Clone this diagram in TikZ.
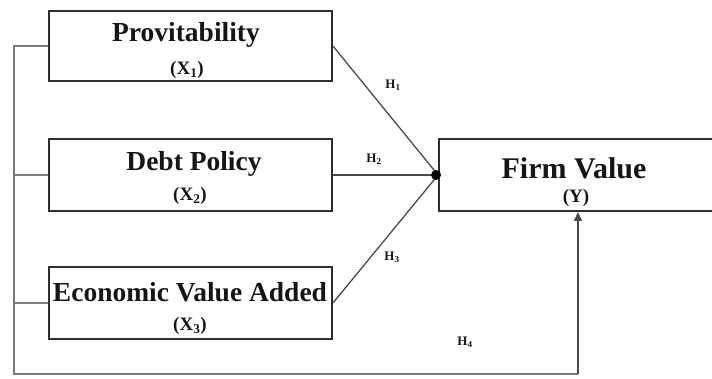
\documentclass[tikz,border=0pt]{standalone}
\usepackage{fontspec}
\setmainfont{Liberation Serif}
\usetikzlibrary{arrows.meta}
\definecolor{edge}{HTML}{2E2E2E}
\definecolor{wire}{HTML}{4A4A4A}
\definecolor{rail}{HTML}{7A7A7A}
\definecolor{ink}{HTML}{151515}
\tikzset{
  varbox/.style={draw=edge, line width=1.9pt, rectangle, inner sep=0pt, fill=white},
  title/.style={text=ink, font=\bfseries\fontsize{27.5}{30}\selectfont, inner sep=0pt},
  symb/.style={text=ink, font=\bfseries\fontsize{19}{21}\selectfont, inner sep=0pt},
  hyp/.style={text=ink, font=\bfseries\fontsize{13}{15}\selectfont, inner sep=0pt},
  path1/.style={draw=wire, line width=1.3pt},
  railline/.style={draw=rail, line width=1.4pt},
}
\begin{document}
\begin{tikzpicture}[x=1pt,y=-1pt]
\useasboundingbox[fill=white] (0,0) rectangle (712,378);

% independent variables
\node[varbox, minimum width=283pt, minimum height=70pt] (b1) at (190.5,46) {};
\node[varbox, minimum width=283pt, minimum height=72pt] (b2) at (190.5,175) {};
\node[varbox, minimum width=283pt, minimum height=72pt] (b3) at (190.5,303) {};
% dependent variable (box runs past the right edge)
\node[varbox, minimum width=278pt, minimum height=72pt] (fv) at (578,175) {};

\node[title] (t1) at (186,35) {Provitability};
\node[symb]  (s1) at (187,70) {(X\textsubscript{1})};
\node[title] (t2) at (194,164) {Debt Policy};
\node[symb]  (s2) at (190,196) {(X\textsubscript{2})};
\node[title] (t3) at (190,292) {Economic Value Added};
\node[symb]  (s3) at (190,326) {(X\textsubscript{3})};
\node[title, font=\bfseries\fontsize{30}{32}\selectfont] (t4) at (574,168) {Firm Value};
\node[symb]  (s4) at (576,198) {(Y)};

% paths into firm value
\coordinate (hub) at (fv.west);
\draw[path1] (b1.east) -- (hub);
\draw[path1] (b2.east) -- (hub);
\draw[path1] (b3.east) -- (hub);
\fill[black] (hub) ++(-2,0) circle (5pt);

\node[hyp] (h1) at (393,85) {H\textsubscript{1}};
\node[hyp] (h2) at (374,159) {H\textsubscript{2}};
\node[hyp] (h3) at (392,257) {H\textsubscript{3}};
\node[hyp] (h4) at (465,342) {H\textsubscript{4}};

% joint path along the left and bottom
\coordinate (rtop) at (14,46);
\coordinate (rbot) at (14,374);
\coordinate (turn) at (578,374);
\draw[railline] (b1.west) -- (rtop) -- (rbot) -- (turn);
\draw[railline] (b2.west) -- (b2.west -| rtop);
\draw[railline] (b3.west) -- (b3.west -| rtop);
\draw[path1, -{Triangle[length=9pt,width=8pt]}] (turn) -- (turn |- fv.south);
\end{tikzpicture}
\end{document}
